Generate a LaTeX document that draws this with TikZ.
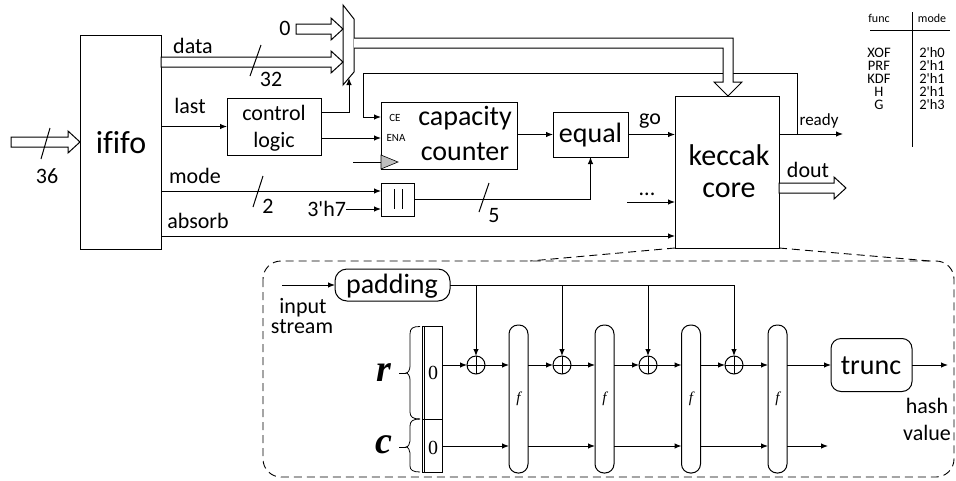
\documentclass[tikz,border=0pt]{standalone}
\usepackage{fontspec}
\setmainfont{Carlito}
\newfontfamily\cf{Carlito}[Ligatures=NoCommon]
\newfontfamily\tnr{Liberation Serif}
\usetikzlibrary{arrows.meta}
\newcommand{\fsz}[1]{\fontsize{#1}{#1}\selectfont}
% hollow bus arrow from x=#1 to x=#2 at height #3
\newcommand{\hbus}[3]{%
  \draw[bus] (#1,#3-5) -- ({#2-12},#3-5) -- ({#2-12},#3-11) -- (#2,#3) -- ({#2-12},#3+11) -- ({#2-12},#3+5) -- (#1,#3+5) -- cycle;}

\begin{document}
\begin{tikzpicture}[x=1pt,y=-1pt,line width=1pt,
  every node/.style={inner sep=0pt,outer sep=0pt},
  blok/.style={draw,fill=white},
  sig/.style={-{Latex[length=7pt,width=5.5pt]}},
  bus/.style={draw,fill=white,line join=miter},
  lbl/.style={font=\cf\fsz{22},anchor=base},
  big/.style={font=\cf\fsz{28},anchor=base},
  port/.style={font=\cf\fsz{11},anchor=base},
  tab/.style={font=\cf\fsz{14.5},anchor=base,text height=10pt,text depth=0pt},
  zline/.style={dash pattern=on 8pt off 5pt,line width=0.9pt},
  fbox/.style={draw,rounded corners=9pt,minimum width=19pt,minimum height=148pt,font=\tnr\itshape\fsz{15}},
  xorc/.style={draw,circle,minimum size=18pt}
]
\useasboundingbox (0,0) rectangle (956,480);

% ---------- input FIFO ----------
\node[blok,minimum width=81pt,minimum height=214pt] (ififo) at (120.5,142) {};
\node[font=\cf\fsz{32},anchor=base] (ififo-t) at (121,153) {ififo};
\hbus{11}{80}{142}
\draw (50,128) -- (41,159);
\node[lbl] at (47,183) {36};

% ---------- control logic ----------
\node[blok,minimum width=94pt,minimum height=57pt] (ctrl) at (274,126.5) {};
\node[lbl] at (274,120) {control};
\node[lbl] at (274,147) {logic};
\draw[sig] (ififo.east |- ctrl.west) -- (ctrl.west);
\node[lbl] at (190,113) {last};

% ---------- keccak core ----------
\node[blok,minimum width=104pt,minimum height=152pt] (kc) at (727,172) {};
\node[font=\cf\fsz{30},anchor=base] at (729,165) {keccak};
\node[font=\cf\fsz{30},anchor=base] at (729,197) {core};

% ---------- capacity counter ----------
\node[blok,minimum width=136pt,minimum height=67pt] (cap) at (449,135.5) {};
\node[big] at (465,125) {capacity};
\node[big] at (465,160) {counter};
\node[port] at (395,121) {CE};
\node[port] at (396,141) {ENA};
\coordinate (ce) at (381,117);
\coordinate (ena) at (381,138);
\coordinate (clk) at (381,162);
\draw[fill=gray!50,line width=0.6pt] (381,155) -- (398,162) -- (381,169) -- cycle;
\draw (353,162) -- (clk);
\draw[sig] (ctrl.east |- ena) -- (ena);

% ---------- ready output and feedback ----------
\coordinate (rdy) at (797,134);
\draw[sig] (kc.east |- rdy) -- (843,134);
\draw[sig] (rdy) |- (363,73) |- (ce);
\node[font=\cf\fsz{17},anchor=base] at (819,125) {ready};

% ---------- multiplexer ----------
\draw[fill=white] (343,5) -- (354,19) -- (354,72) -- (343,85) -- cycle;
\coordinate (muxsel) at (349,78);
\coordinate (selY) at (0,112.5);
\draw[sig] (ctrl.east |- selY) -| (muxsel);
\hbus{296}{343}{29}
\node[lbl] at (285,35) {0};
\hbus{161}{343}{62}
\node[lbl] at (193,53) {data};
\draw (261,45) -- (250,76);
\node[lbl] at (271,86) {32};
% mux output bus into the core
\draw[bus] (354,38) -- (733,38) -- (733,82) -- (742,82) -- (728,96) -- (714,82) -- (723,82) -- (723,48) -- (354,48);

% ---------- comparator ----------
\node[blok,minimum width=75pt,minimum height=45pt] (eq) at (590.5,134.5) {};
\node[big] at (590.5,142) {equal};
\draw[sig] (cap.east |- eq.west) -- (eq.west);
\draw[sig] (eq.east) -- (kc.west |- eq.east);
\node[lbl] at (650,124) {go};

% ---------- concatenation ----------
\node[blok,minimum size=33pt] (cat) at (397.5,199.5) {};
\draw (394,189) -- (394,209) (402.5,189) -- (402.5,209);
\coordinate (modeY) at (0,191);
\draw[sig] (ififo.east |- modeY) -- (cat.west |- modeY);
\node[lbl] at (195,183) {mode};
\draw (263,176) -- (253,207);
\node[lbl] at (268,213) {2};
\node[lbl,anchor=base east] (h7) at (346,216) {3'h7};
\coordinate (h7Y) at (0,209);
\draw[sig] (h7.east |- h7Y) -- (cat.west |- h7Y);
\draw[sig] (cat.east) -| (eq.south);
\draw (489,183) -- (479,212);
\node[lbl] at (494,222) {5};

% ---------- absorb and other inputs ----------
\coordinate (absY) at (0,236);
\draw[sig] (ififo.east |- absY) -- (kc.west |- absY);
\node[lbl] at (198,228) {absorb};
\coordinate (dotsY) at (0,202);
\draw[sig] (627,202) -- (kc.west |- dotsY);
\node[lbl] at (647,195) {...};

% ---------- data output ----------
\hbus{779}{846}{188}
\node[lbl] at (808,177) {dout};

% ---------- mode table ----------
\draw (870,30) -- (950,30);
\draw (912,12) -- (912,147);
\node[font=\cf\fsz{12},anchor=base] at (879,22) {func};
\node[font=\cf\fsz{12},anchor=base] at (932,22) {mode};
\foreach \n/\v/\y in {XOF/2'h0/57,PRF/2'h1/70,KDF/2'h1/83,H/2'h1/96,G/2'h3/109}{
  \node[tab] at (879,\y) {\n};
  \node[tab] at (932,\y) {\v};
}

% ---------- sponge construction ----------
\draw[zline,rounded corners=18pt] (263,261) rectangle (954,477);
\draw[zline] (kc.south west) -- (530,261);
\draw[zline] (kc.south east) -- (930,261);

\node[draw,rounded corners=12pt,minimum width=115pt,minimum height=32pt] (pad) at (392.5,285) {};
\node[big] at (392,293) {padding};
\draw[sig] (282,285) -- (pad.west);
\node[lbl] at (303,313) {input};
\node[lbl] at (302,333) {stream};
\draw (pad.east) -- (734,285);

\foreach \i/\xx in {1/476,2/562,3/648,4/734}{
  \node[xorc] (x\i) at (\xx,365) {};
  \draw[line width=0.8pt] (x\i.north) -- (x\i.south) (x\i.west) -- (x\i.east);
  \draw[sig] (\xx,285) -- (x\i.north);
}
\foreach \i/\xx in {1/518.5,2/604.5,3/691,4/777.5}{
  \node[fbox] (f\i) at (\xx,399) {f};
}

% state register
\node[draw,minimum width=20pt,minimum height=93pt] (regr) at (432,372.5) {};
\node[draw,minimum width=20pt,minimum height=53pt] (regc) at (432,445.5) {};
\draw (424.5,326) -- (424.5,472);
\node[font=\tnr\fsz{20},anchor=base] at (433,379) {0};
\node[font=\tnr\fsz{20},anchor=base] at (433,454) {0};

% braces with r and c
\draw[line width=0.8pt] (420,326.5) .. controls (413,326.5) and (410,328) .. (410,334) -- (410,366)
  .. controls (410,370) and (408,373) .. (406,373) .. controls (408,373) and (410,376) .. (410,380)
  -- (410,412) .. controls (410,417) and (413,419) .. (420,419);
\draw[line width=0.8pt] (420,419) .. controls (413,419) and (410,421) .. (410,426) -- (410,441)
  .. controls (410,444) and (408,447) .. (406,447) .. controls (408,447) and (410,450) .. (410,453)
  -- (410,466) .. controls (410,470) and (413,472) .. (420,472);
\draw (399,373) -- (406,373);
\draw (399,447) -- (406,447);
\node[font=\tnr\bfseries\itshape\fsz{38},anchor=base] at (384,381) {r};
\node[font=\tnr\bfseries\itshape\fsz{38},anchor=base] at (384,453) {c};

% truncation
\node[draw,rounded corners=10pt,minimum width=81pt,minimum height=53pt] (tr) at (871.5,365) {};
\node[big] at (871,374) {trunc};
\node[lbl] at (927,413) {hash};
\node[lbl] at (927,440) {value};

% rate lane
\draw[sig] (regr.east |- x1) -- (x1.west);
\draw[sig] (x1.east) -- (f1.west |- x1);
\draw[sig] (f1.east |- x1) -- (x2.west);
\draw[sig] (x2.east) -- (f2.west |- x2);
\draw[sig] (f2.east |- x2) -- (x3.west);
\draw[sig] (x3.east) -- (f3.west |- x3);
\draw[sig] (f3.east |- x3) -- (x4.west);
\draw[sig] (x4.east) -- (f4.west |- x4);
\draw[sig] (f4.east |- x4) -- (tr.west);
\draw[sig] (tr.east) -- (948,365);

% capacity lane
\coordinate (cY) at (0,446);
\draw[sig] (regc.east |- cY) -- (f1.west |- cY);
\draw[sig] (f1.east |- cY) -- (f2.west |- cY);
\draw[sig] (f2.east |- cY) -- (f3.west |- cY);
\draw[sig] (f3.east |- cY) -- (f4.west |- cY);
\draw[sig] (f4.east |- cY) -- (828,446);
\end{tikzpicture}
\end{document}
